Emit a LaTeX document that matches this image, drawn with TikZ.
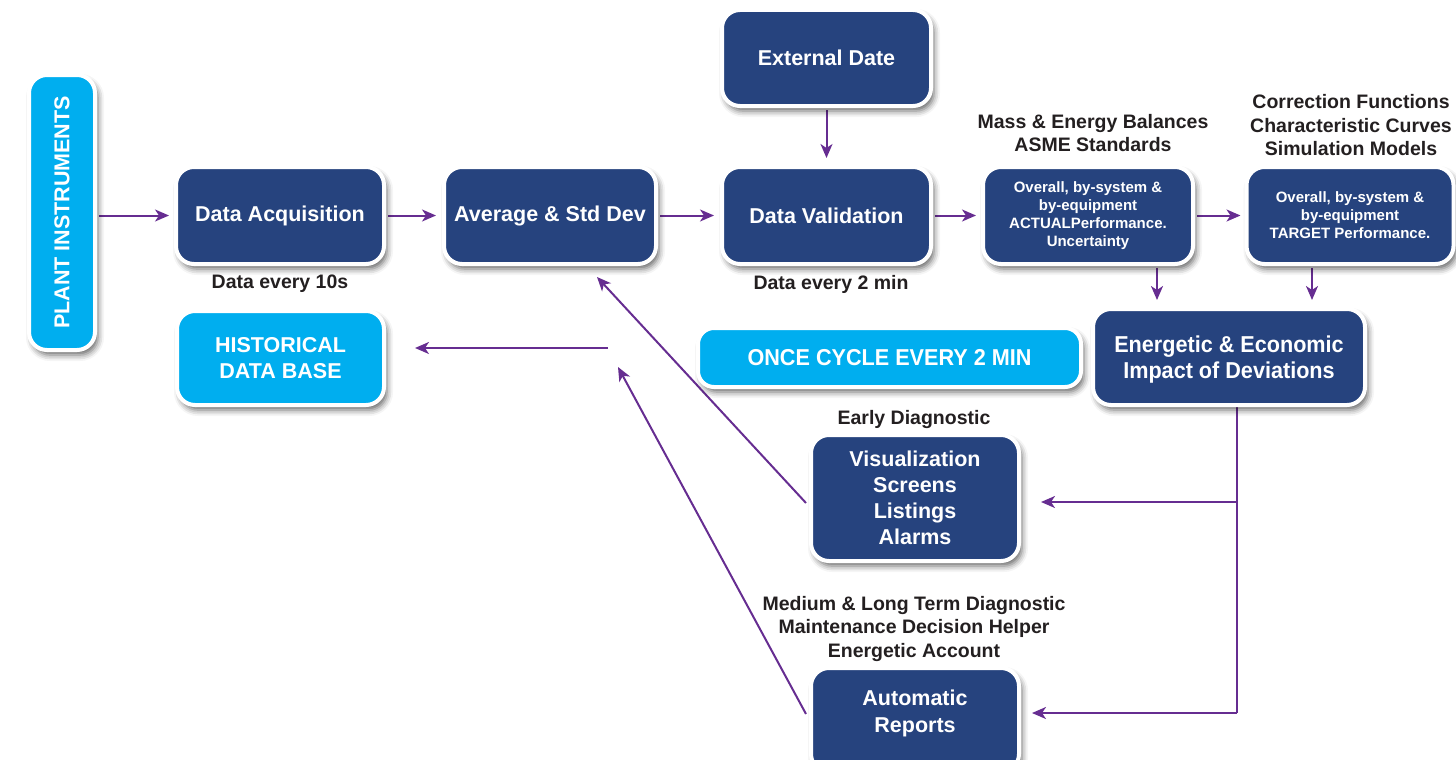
\documentclass[tikz,border=0pt]{standalone}
\usepackage{fontspec}
\setmainfont{Liberation Sans}
\newfontfamily\narrowsans{Liberation Sans}[FakeStretch=0.94]
\usetikzlibrary{arrows.meta,shadows.blur,backgrounds}
\definecolor{navy}{HTML}{26437E}
\definecolor{sky}{HTML}{00AEEF}
\definecolor{flow}{HTML}{662D91}
\definecolor{ink}{HTML}{231F20}

\tikzset{
  box/.style={rounded corners=18pt, draw=white, line width=4pt, text=white,
    align=center, inner sep=0pt,
    blur shadow={shadow xshift=3pt, shadow yshift=-5pt,
      shadow blur radius=6pt, shadow opacity=60}},
  darkbox/.style={box, fill=navy, font=\bfseries\fontsize{21.5}{26}\selectfont},
  skybox/.style={box, fill=sky, font=\bfseries\fontsize{21.5}{26}\selectfont},
  smallbox/.style={box, fill=navy, font=\bfseries\fontsize{15}{18}\selectfont},
  narrowtext/.style={font=\narrowsans\bfseries\fontsize{23}{26}\selectfont},
  boxtext/.style={text=white, align=center, inner sep=0pt,
    font=\bfseries\fontsize{21.5}{26.5}\selectfont},
  note/.style={text=ink, align=center, inner sep=0pt,
    font=\bfseries\fontsize{19.5}{23.5}\selectfont},
  flowline/.style={draw=flow, line width=2pt},
  arr/.style={flowline, -{Stealth[length=14pt,width=12pt,inset=4pt]}},
}

\begin{document}
\begin{tikzpicture}[x=1pt, y=-1pt]
\useasboundingbox (0,0) rectangle (1456,760);

% main chain
\node[skybox, minimum width=66pt, minimum height=275pt] (pi) at (62,212.5)
  {\rotatebox{90}{PLANT INSTRUMENTS}};
\node[darkbox, minimum width=208pt, minimum height=97pt] (da) at (280,215.5)
  {Data Acquisition};
\node[darkbox, minimum width=212pt, minimum height=97pt] (avg) at (550,215.5)
  {Average \& Std Dev};
\node[darkbox, minimum width=209pt, minimum height=97pt] (dv) at (826.5,215.5)
  {Data Validation};
\node[darkbox, minimum width=209pt, minimum height=96pt] (ed) at (826.5,58)
  {External Date};
\node[smallbox, minimum width=210pt, minimum height=97pt] (act) at (1088,215.5)
  {Overall, by-system \&\\by-equipment\\ACTUALPerformance.\\Uncertainty};
\node[smallbox, minimum width=207pt, minimum height=97pt] (tgt) at (1350,215.5)
  {Overall, by-system \&\\by-equipment\\TARGET Performance.};

% second row
\node[darkbox, minimum width=272pt, minimum height=96pt] (en) at (1229,357) {};
\node[boxtext, narrowtext] (entext) at (1229,359.5)
  {Energetic \& Economic\\Impact of Deviations};
\node[skybox, narrowtext, rounded corners=16pt, minimum width=383pt, minimum height=59pt]
  (cyc) at (889.5,357.5) {ONCE CYCLE EVERY 2 MIN};
\node[skybox, minimum width=207pt, minimum height=94pt] (hist) at (280.5,358)
  {HISTORICAL\\DATA BASE};

% outputs
\node[darkbox, minimum width=208pt, minimum height=126pt] (vis) at (915,498)
  {Visualization\\Screens\\Listings\\Alarms};
\node[darkbox, minimum width=208pt, minimum height=104pt] (ar) at (915,720) {};
\node[boxtext] (artext) at (915,713.5) {Automatic\\Reports};

% annotations
\node[note] (n10s) at (280,284) {Data every 10s};
\node[note] (n2min) at (831,284) {Data every 2 min};
\node[note] (nmass) at (1093,133) {Mass \& Energy Balances\\ASME Standards};
\node[note] (ncorr) at (1351,125.5)
  {Correction Functions\\Characteristic Curves\\Simulation Models};
\node[note] (nearly) at (914,419.5) {Early Diagnostic};
\node[note] (nmed) at (914,628.5)
  {Medium \& Long Term Diagnostic\\Maintenance Decision Helper\\Energetic Account};

% connectors
\coordinate (histfeed) at (608,348);
\coordinate (avgtip) at (597,277);
\coordinate (feedtip) at (618,367);
\coordinate (j1) at (1237,502);
\coordinate (j2) at (1237,713);

\begin{scope}[on background layer]
\draw[arr, shorten <=2pt, shorten >=5pt] (pi.east |- da.west) -- (da.west);
\draw[arr, shorten <=2pt, shorten >=6pt] (da.east) -- (avg.west);
\draw[arr, shorten <=2pt, shorten >=6pt] (avg.east) -- (dv.west);
\draw[arr, shorten <=2pt, shorten >=7pt] (ed.south) -- (dv.north);
\draw[arr, shorten <=2pt, shorten >=5pt] (dv.east) -- (act.west);
\draw[arr, shorten <=2pt, shorten >=4pt] (act.east) -- (tgt.west);
\draw[arr, shorten <=2pt, shorten >=7pt]
  ([xshift=69pt]act.south) -- ([xshift=69pt]act.south |- en.north);
\draw[arr, shorten <=2pt, shorten >=7pt]
  ([xshift=-38pt]tgt.south) -- ([xshift=-38pt]tgt.south |- en.north);
\draw[arr, shorten >=29pt] (histfeed) -- (hist.east |- histfeed);
\draw[arr] ([shift={(-3pt,-5pt)}]vis.west) -- (avgtip);
\draw[arr] ([shift={(-3pt,6pt)}]ar.west) -- (feedtip);
\draw[flowline] (en.south -| j1) -- (j2);
\draw[arr, shorten >=20pt] (j1) -- (vis.east |- j1);
\draw[arr, shorten >=11pt] (j2) -- (ar.east |- j2);
\end{scope}
\end{tikzpicture}
\end{document}
